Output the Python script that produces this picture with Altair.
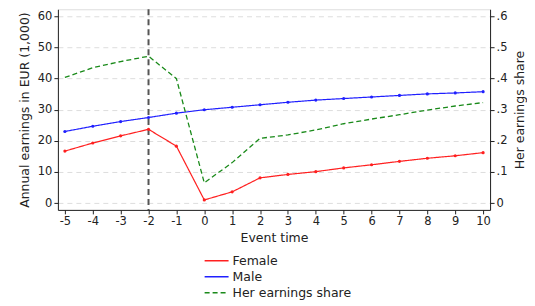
import altair as alt
import pandas as pd

event = list(range(-5, 11))
female = [16.7, 19.3, 21.6, 23.7, 18.3, 1.0, 3.6, 8.1, 9.2, 10.1, 11.3, 12.3, 13.4, 14.4, 15.2, 16.2]
male = [23.0, 24.7, 26.2, 27.5, 28.9, 30.0, 30.8, 31.6, 32.4, 33.1, 33.6, 34.1, 34.6, 35.1, 35.4, 35.8]
share = [0.404, 0.435, 0.455, 0.472, 0.400, 0.065, 0.130, 0.208, 0.219, 0.235, 0.255, 0.270, 0.284, 0.299, 0.312, 0.323]
series_names = ["Female", "Male", "Her earnings share"]
series_colors = ["#ff2020", "#2020ff", "#1a8a1a"]
y_ticks = [0, 10, 20, 30, 40, 50, 60]
share_ticks = [0, 0.1, 0.2, 0.3, 0.4, 0.5, 0.6]
event_line = -2

earn = pd.DataFrame(
    {"event": event * 2,
     "value": female + male,
     "series": ["Female"] * len(event) + ["Male"] * len(event)}
)
share_df = pd.DataFrame({"event": event, "value": share, "series": ["Her earnings share"] * len(event)})
vline = pd.DataFrame({"event": [event_line]})

FONT = "DejaVu Sans"
TXT = "#222222"
axis_style = dict(labelFont=FONT, titleFont=FONT, labelFontSize=11.5, titleFontSize=12.5,
                  labelColor=TXT, titleColor=TXT, titleFontWeight="normal",
                  domainColor=TXT, tickColor=TXT, tickSize=4, labelOverlap=False)

color_scale = alt.Scale(domain=series_names, range=series_colors)
dash_scale = alt.Scale(domain=series_names, range=[[1, 0], [1, 0], [5, 3]])

x_enc = alt.X(
    "event:Q",
    scale=alt.Scale(domain=[-5.25, 10.25], nice=False, zero=False),
    axis=alt.Axis(values=event, title="Event time", grid=False,
                  labelExpr="'' + datum.value",
                  labelFlush=False, titlePadding=4, **axis_style),
)

legend = alt.Legend(
    title=None, orient="none", legendX=150, legendY=243,
    symbolType="M-1.5,0L1.5,0", symbolSize=256, symbolStrokeWidth=1.5,
    labelFontSize=12.5, labelFont=FONT, labelColor=TXT, rowPadding=0,
    labelOffset=7, padding=0,
)

color_enc = alt.Color("series:N", scale=color_scale, legend=legend)
dash_enc = alt.StrokeDash("series:N", scale=dash_scale, legend=legend)

earn_lines = alt.Chart(earn).mark_line(
    strokeWidth=1.2, point=alt.OverlayMarkDef(size=10, filled=True)
).encode(
    x=x_enc,
    y=alt.Y("value:Q", scale=alt.Scale(domain=[-2.2, 62.3], nice=False, zero=False),
            axis=alt.Axis(values=y_ticks, title="Annual earnings in EUR (1,000)",
                          grid=True, gridDash=[5, 4], gridColor="#dddddd",
                          titlePadding=6, **axis_style)),
    color=color_enc,
    strokeDash=dash_enc,
    order="event:Q",
)

share_line = alt.Chart(share_df).mark_line(strokeWidth=1.3).encode(
    x=x_enc,
    y=alt.Y("value:Q", scale=alt.Scale(domain=[-0.022, 0.623], nice=False, zero=False),
            axis=alt.Axis(values=share_ticks, orient="right", title="Her earnings share",
                          titleAngle=270, titleBaseline="top", titlePadding=7,
                          grid=False,
                          labelExpr="datum.value == 0 ? '0' : replace(format(datum.value, '.1f'), '0.', '.')",
                          **axis_style)),
    color=color_enc,
    strokeDash=dash_enc,
    order="event:Q",
)

rule = alt.Chart(vline).mark_rule(color="#555555", strokeDash=[6, 4], strokeWidth=2).encode(x=x_enc)

chart = alt.layer(rule, earn_lines, share_line).resolve_scale(y="independent").properties(
    width=433, height=201, padding={"left": 10, "top": 0, "right": 0, "bottom": 0},
).configure_view(stroke=None).configure(background="white")

chart.save("out.html", embed_options={"renderer": "svg", "actions": False})
